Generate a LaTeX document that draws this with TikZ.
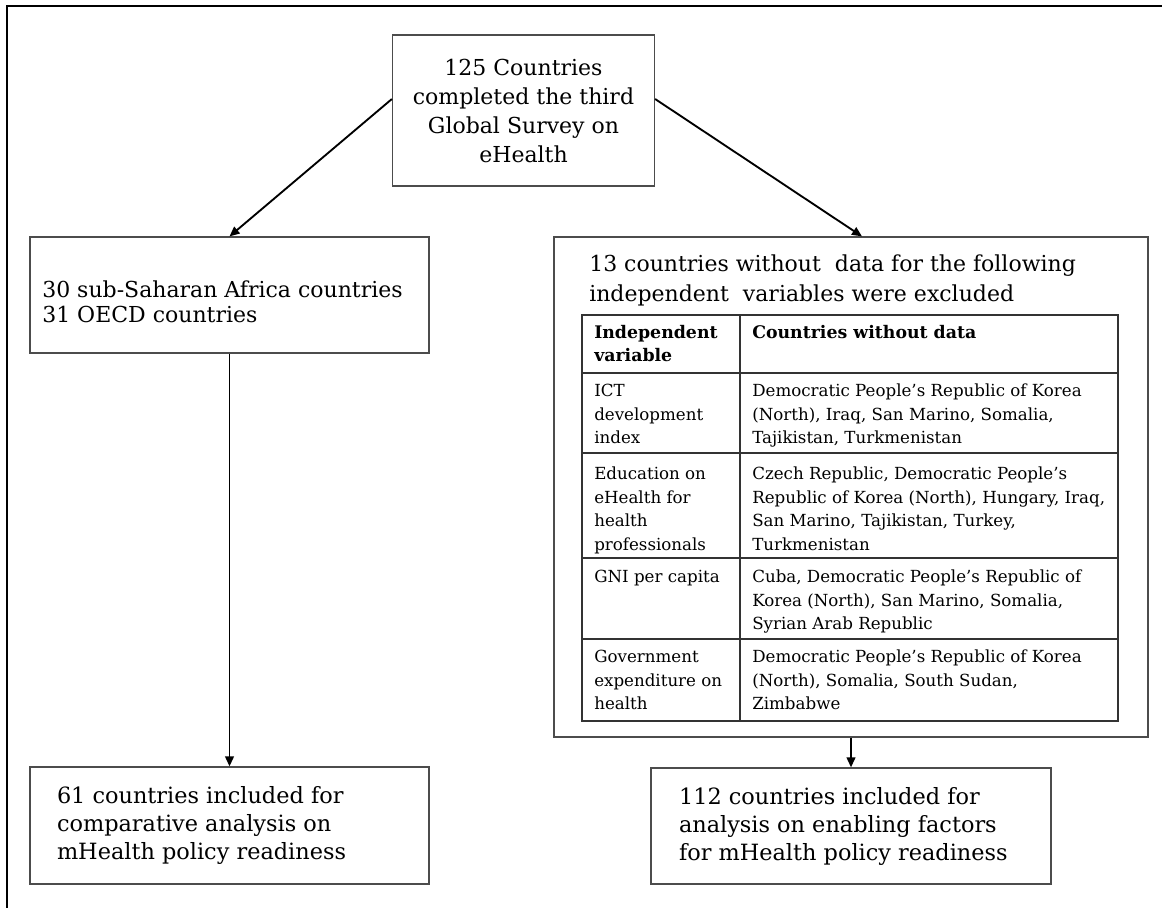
\documentclass[tikz,border=0pt]{standalone}
\usepackage{fontspec}
\setmainfont{DejaVu Serif}
\usetikzlibrary{arrows.meta}
\newcommand\flowfont{\fontsize{16.5pt}{21.75pt}\selectfont}
\tikzset{
  box/.style={draw=black!70, line width=0.9pt, inner sep=0pt, align=flush left},
  note/.style={anchor=north west, inner sep=0pt, align=flush left},
  link/.style={-{Triangle[length=7.5pt,width=6.5pt]}, line width=1.4pt},
  grid/.style={draw=black!80, line width=0.9pt},
  cell/.style={anchor=north west, inner sep=0pt, align=flush left,
    font=\fontsize{12.5pt}{17.6pt}\selectfont},
  head/.style={cell, font=\fontsize{13pt}{17.6pt}\selectfont\bfseries},
}
\begin{document}
\begin{tikzpicture}[x=0.75pt, y=-0.75pt]
  \useasboundingbox (0,0) rectangle (1162,907);
  % frame
  \draw[line width=2pt] (7,930) -- (7,6) -- (1190,6);
  % flow boxes
  \node[box, align=center, minimum width=196.5pt, minimum height=113.25pt,
    font=\flowfont] (survey) at (523.5,110.5)
    {125 Countries\\completed the third\\Global Survey on\\eHealth};
  \node[box, minimum width=299.25pt, minimum height=87pt] (subsets) at (229.5,295) {};
  \node[note, font=\fontsize{16.5pt}{18.75pt}\selectfont] (subsetstext) at (42,281)
    {30 sub-Saharan Africa countries\\31 OECD countries};
  \node[box, minimum width=445.5pt, minimum height=375pt] (excluded) at (851,487) {};
  \node[note, font=\fontsize{16.5pt}{22.5pt}\selectfont] (exclnote) at (589,255)
    {13 countries without\ \ data for the following\\independent\ \ variables were excluded};
  \node[box, minimum width=299.25pt, minimum height=87.75pt, text width=258.75pt,
    font=\fontsize{16.8pt}{21pt}\selectfont] (compare) at (229.5,825.5)
    {61 countries included for\\comparative analysis on\\mHealth policy readiness};
  \node[box, minimum width=300pt, minimum height=87pt, text width=258pt,
    font=\fontsize{16.8pt}{21pt}\selectfont] (enable) at (851,826)
    {112 countries included for\\analysis on enabling factors\\for mHealth policy readiness};
  % table of missing data
  \draw[grid] (582,315) rectangle (1118,721);
  \draw[grid] (740,315) -- (740,721);
  \foreach \y in {373,453,558,639}
    \draw[grid] (582,\y) -- (1118,\y);
  \node[head] (varhead) at (594,325) {Independent\\variable};
  \node[head] (cntyhead) at (752,325) {Countries without data};
  \node[cell] (ict) at (594,384) {ICT\\development\\index};
  \node[cell] (ictlist) at (752,384)
    {Democratic People's Republic of Korea\\(North), Iraq, San Marino, Somalia,\\Tajikistan, Turkmenistan};
  \node[cell] (edu) at (594,467) {Education on\\eHealth for\\health\\professionals};
  \node[cell] (edulist) at (752,467)
    {Czech Republic, Democratic People's\\Republic of Korea (North), Hungary, Iraq,\\San Marino, Tajikistan, Turkey,\\Turkmenistan};
  \node[cell] (gni) at (594,570) {GNI per capita};
  \node[cell] (gnilist) at (752,570)
    {Cuba, Democratic People's Republic of\\Korea (North), San Marino, Somalia,\\Syrian Arab Republic};
  \node[cell] (gov) at (594,650) {Government\\expenditure on\\health};
  \node[cell] (govlist) at (752,650)
    {Democratic People's Republic of Korea\\(North), Somalia, South Sudan,\\Zimbabwe};
  % connectors
  \draw[link] (survey.175) -- (subsets.north);
  \draw[link] (survey.5) -- ([xshift=8.25pt]excluded.north);
  \draw[link] (subsets.south) -- (compare.north);
  \draw[link] (excluded.south) -- (enable.north);
\end{tikzpicture}
\end{document}
